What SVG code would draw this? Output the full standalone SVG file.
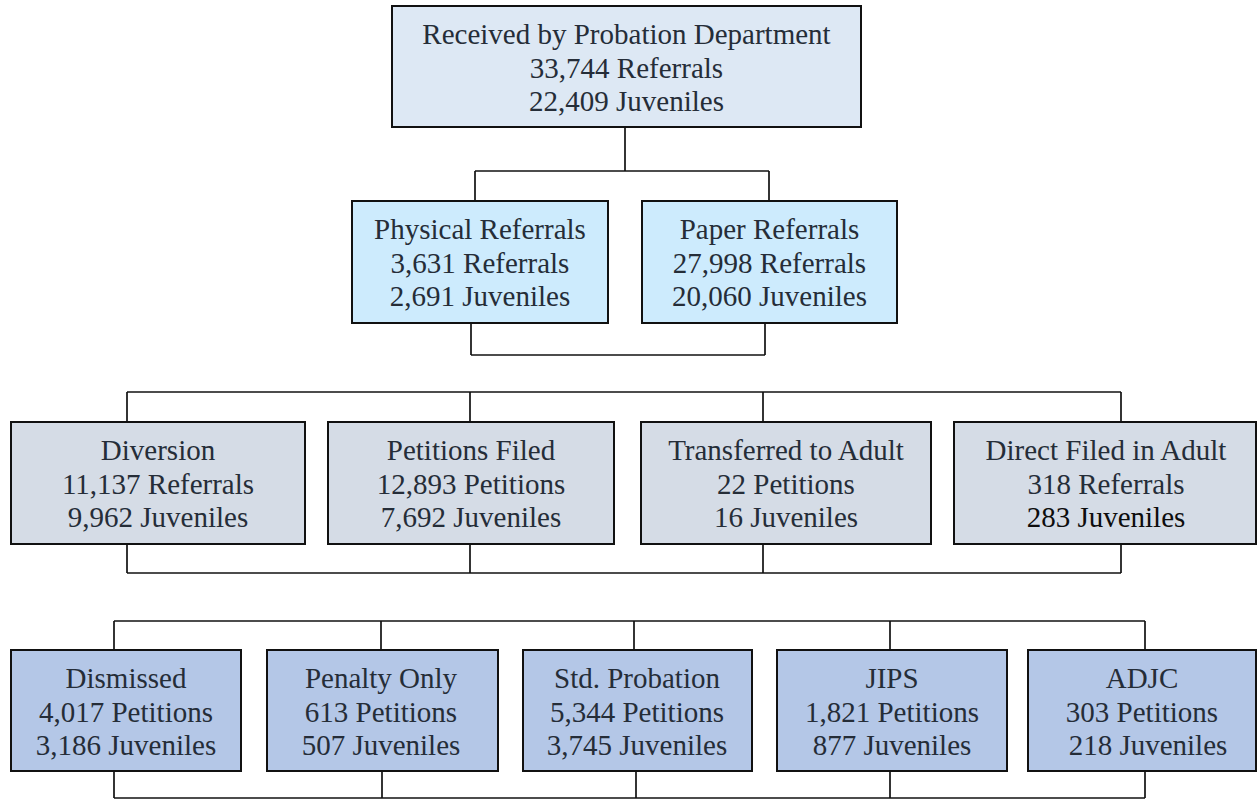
<svg xmlns="http://www.w3.org/2000/svg" width="1257" height="800" viewBox="0 0 1257 800">
<style>
.box{stroke:#111;stroke-width:2}
.l1{fill:#dde8f4}
.l2{fill:#cdebfd}
.l3{fill:#d5dce6}
.l4{fill:#b4c7e7}
text{font-family:"Liberation Serif","Times New Roman",serif;font-size:29px;fill:#252d38;text-anchor:middle}
.conn line{stroke:#111;stroke-width:1.7;fill:none}
</style>
<rect width="1257" height="800" fill="#fff"/>
<g id="received">
<rect class="box l1" x="392" y="6" width="469" height="121"/>
<text x="626.5" y="44">Received by Probation Department</text>
<text x="626.5" y="78">33,744 Referrals</text>
<text x="626.5" y="111">22,409 Juveniles</text>
</g>
<g id="physical">
<rect class="box l2" x="352" y="201" width="256" height="122"/>
<text x="480" y="239">Physical Referrals</text>
<text x="480" y="273">3,631 Referrals</text>
<text x="480" y="306">2,691 Juveniles</text>
</g>
<g id="paper">
<rect class="box l2" x="642" y="201" width="255" height="122"/>
<text x="769.5" y="239">Paper Referrals</text>
<text x="769.5" y="273">27,998 Referrals</text>
<text x="769.5" y="306">20,060 Juveniles</text>
</g>
<g id="diversion">
<rect class="box l3" x="11" y="422" width="294" height="122"/>
<text x="158" y="460">Diversion</text>
<text x="158" y="494">11,137 Referrals</text>
<text x="158" y="527">9,962 Juveniles</text>
</g>
<g id="petitions">
<rect class="box l3" x="328" y="422" width="286" height="122"/>
<text x="471" y="460">Petitions Filed</text>
<text x="471" y="494">12,893 Petitions</text>
<text x="471" y="527">7,692 Juveniles</text>
</g>
<g id="transferred">
<rect class="box l3" x="641" y="422" width="290" height="122"/>
<text x="786" y="460">Transferred to Adult</text>
<text x="786" y="494">22 Petitions</text>
<text x="786" y="527">16 Juveniles</text>
</g>
<g id="direct">
<rect class="box l3" x="954" y="422" width="302" height="122"/>
<text x="1106" y="460">Direct Filed in Adult</text>
<text x="1106" y="494">318 Referrals</text>
<text x="1106" y="527" style="fill:#0d0d0d">283 Juveniles</text>
</g>
<g id="dismissed">
<rect class="box l4" x="11" y="650" width="230" height="121"/>
<text x="126" y="688">Dismissed</text>
<text x="126" y="722">4,017 Petitions</text>
<text x="126" y="755">3,186 Juveniles</text>
</g>
<g id="penalty">
<rect class="box l4" x="267" y="650" width="231" height="121"/>
<text x="381" y="688">Penalty Only</text>
<text x="381" y="722">613 Petitions</text>
<text x="381" y="755">507 Juveniles</text>
</g>
<g id="std">
<rect class="box l4" x="523" y="650" width="229" height="121"/>
<text x="637" y="688">Std. Probation</text>
<text x="637" y="722">5,344 Petitions</text>
<text x="637" y="755">3,745 Juveniles</text>
</g>
<g id="jips">
<rect class="box l4" x="777" y="650" width="230" height="121"/>
<text x="892" y="688">JIPS</text>
<text x="892" y="722">1,821 Petitions</text>
<text x="892" y="755">877 Juveniles</text>
</g>
<g id="adjc">
<rect class="box l4" x="1028" y="650" width="228" height="121"/>
<text x="1142" y="688">ADJC</text>
<text x="1142" y="722">303 Petitions</text>
<text x="1148" y="755">218 Juveniles</text>
</g>
<g id="connectors" class="conn">
<line x1="625" y1="127" x2="625" y2="171"/>
<line x1="475" y1="171" x2="769" y2="171"/>
<line x1="475" y1="171" x2="475" y2="201"/>
<line x1="769" y1="171" x2="769" y2="201"/>
<line x1="471" y1="323" x2="471" y2="355"/>
<line x1="765" y1="323" x2="765" y2="355"/>
<line x1="471" y1="355" x2="765" y2="355"/>
<line x1="127" y1="392" x2="1121" y2="392"/>
<line x1="127" y1="392" x2="127" y2="422"/>
<line x1="470" y1="392" x2="470" y2="422"/>
<line x1="763" y1="392" x2="763" y2="422"/>
<line x1="1121" y1="392" x2="1121" y2="422"/>
<line x1="127" y1="544" x2="127" y2="573"/>
<line x1="470" y1="544" x2="470" y2="573"/>
<line x1="763" y1="544" x2="763" y2="573"/>
<line x1="1121" y1="544" x2="1121" y2="573"/>
<line x1="127" y1="573" x2="1121" y2="573"/>
<line x1="114" y1="621" x2="1145" y2="621"/>
<line x1="114" y1="621" x2="114" y2="650"/>
<line x1="381" y1="621" x2="381" y2="650"/>
<line x1="634" y1="621" x2="634" y2="650"/>
<line x1="890" y1="621" x2="890" y2="650"/>
<line x1="1145" y1="621" x2="1145" y2="650"/>
<line x1="114" y1="771" x2="114" y2="798"/>
<line x1="382" y1="771" x2="382" y2="798"/>
<line x1="636" y1="771" x2="636" y2="798"/>
<line x1="890" y1="771" x2="890" y2="798"/>
<line x1="1145" y1="771" x2="1145" y2="798"/>
<line x1="114" y1="798" x2="1145" y2="798"/>
</g>
</svg>
